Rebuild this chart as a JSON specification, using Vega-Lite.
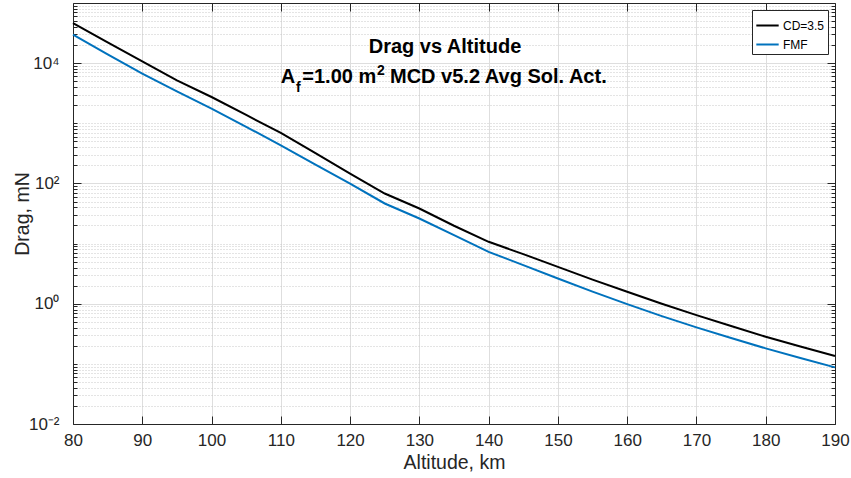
{
  "$schema": "https://vega.github.io/schema/vega-lite/v6.json",
  "width": 762,
  "height": 421,
  "autosize": {"type": "none"},
  "padding": {"left": 73, "top": 3, "right": 16, "bottom": 54},
  "background": "white",
  "config": {
    "view": {"stroke": null},
    "font": "Liberation Sans",
    "axis": {
      "labelFont": "Liberation Sans",
      "titleFont": "Liberation Sans",
      "labelColor": "#262626",
      "titleColor": "#262626",
      "domainColor": "#262626",
      "tickColor": "#262626",
      "titleFontWeight": "normal",
      "labelFontSize": 17,
      "titleFontSize": 19.5,
      "domainWidth": 1,
      "tickWidth": 1
    },
    "legend": {
      "orient": "top-right",
      "offset": 7,
      "fillColor": "white",
      "strokeColor": "#262626",
      "padding": 3,
      "symbolType": "stroke",
      "symbolStrokeWidth": 2,
      "symbolSize": 500,
      "labelFont": "Liberation Sans",
      "labelFontSize": 12,
      "labelColor": "#000000",
      "rowPadding": 0,
      "labelOffset": 3
    }
  },
  "data": {
    "values": [
      {"alt": 80, "drag": 46350, "series": "CD=3.5"},
      {"alt": 85, "drag": 22180, "series": "CD=3.5"},
      {"alt": 90, "drag": 10710, "series": "CD=3.5"},
      {"alt": 95, "drag": 5180, "series": "CD=3.5"},
      {"alt": 100, "drag": 2735, "series": "CD=3.5"},
      {"alt": 105, "drag": 1374, "series": "CD=3.5"},
      {"alt": 110, "drag": 690, "series": "CD=3.5"},
      {"alt": 115, "drag": 318, "series": "CD=3.5"},
      {"alt": 120, "drag": 146, "series": "CD=3.5"},
      {"alt": 125, "drag": 67.9, "series": "CD=3.5"},
      {"alt": 130, "drag": 38.3, "series": "CD=3.5"},
      {"alt": 135, "drag": 19.8, "series": "CD=3.5"},
      {"alt": 140, "drag": 10.7, "series": "CD=3.5"},
      {"alt": 145, "drag": 6.67, "series": "CD=3.5"},
      {"alt": 150, "drag": 4.1, "series": "CD=3.5"},
      {"alt": 155, "drag": 2.51, "series": "CD=3.5"},
      {"alt": 160, "drag": 1.58, "series": "CD=3.5"},
      {"alt": 165, "drag": 1.0, "series": "CD=3.5"},
      {"alt": 170, "drag": 0.647, "series": "CD=3.5"},
      {"alt": 175, "drag": 0.425, "series": "CD=3.5"},
      {"alt": 180, "drag": 0.282, "series": "CD=3.5"},
      {"alt": 185, "drag": 0.194, "series": "CD=3.5"},
      {"alt": 190, "drag": 0.135, "series": "CD=3.5"},
      {"alt": 80, "drag": 29720, "series": "FMF"},
      {"alt": 85, "drag": 14000, "series": "FMF"},
      {"alt": 90, "drag": 6690, "series": "FMF"},
      {"alt": 95, "drag": 3400, "series": "FMF"},
      {"alt": 100, "drag": 1755, "series": "FMF"},
      {"alt": 105, "drag": 875, "series": "FMF"},
      {"alt": 110, "drag": 431, "series": "FMF"},
      {"alt": 115, "drag": 205, "series": "FMF"},
      {"alt": 120, "drag": 99.6, "series": "FMF"},
      {"alt": 125, "drag": 46.4, "series": "FMF"},
      {"alt": 130, "drag": 26.1, "series": "FMF"},
      {"alt": 135, "drag": 13.8, "series": "FMF"},
      {"alt": 140, "drag": 7.28, "series": "FMF"},
      {"alt": 145, "drag": 4.38, "series": "FMF"},
      {"alt": 150, "drag": 2.63, "series": "FMF"},
      {"alt": 155, "drag": 1.59, "series": "FMF"},
      {"alt": 160, "drag": 0.984, "series": "FMF"},
      {"alt": 165, "drag": 0.622, "series": "FMF"},
      {"alt": 170, "drag": 0.404, "series": "FMF"},
      {"alt": 175, "drag": 0.269, "series": "FMF"},
      {"alt": 180, "drag": 0.181, "series": "FMF"},
      {"alt": 185, "drag": 0.125, "series": "FMF"},
      {"alt": 190, "drag": 0.0875, "series": "FMF"}
    ]
  },
  "layer": [
    {
      "mark": {"type": "point", "opacity": 0},
      "encoding": {
        "x": {"field": "alt", "type": "quantitative", "scale": {"domain": [80, 190], "nice": false, "zero": false},
          "axis": {"orient": "top", "values": [80, 90, 100, 110, 120, 130, 140, 150, 160, 170, 180, 190], "labels": false, "title": null, "grid": false, "tickSize": -8, "domain": true}},
        "y": {"field": "drag", "type": "quantitative", "scale": {"type": "log", "domain": [0.01, 100000], "nice": false},
          "axis": {"orient": "left", "values": [0.02,0.03,0.04,0.05,0.06,0.07,0.08,0.09,0.1,0.2,0.3,0.4,0.5,0.6,0.7,0.8,0.9,2,3,4,5,6,7,8,9,10,20,30,40,50,60,70,80,90,200,300,400,500,600,700,800,900,1000,2000,3000,4000,5000,6000,7000,8000,9000,20000,30000,40000,50000,60000,70000,80000,90000],
            "labels": false, "title": null, "domain": false, "tickSize": -4, "grid": true, "gridColor": "#c9c9c9", "gridDash": [1, 2], "gridWidth": 1}}
      }
    },
    {
      "mark": {"type": "point", "opacity": 0},
      "encoding": {
        "x": {"field": "alt", "type": "quantitative", "axis": null},
        "y": {"field": "drag", "type": "quantitative",
          "axis": {"orient": "right", "values": [0.02,0.03,0.04,0.05,0.06,0.07,0.08,0.09,0.1,0.2,0.3,0.4,0.5,0.6,0.7,0.8,0.9,2,3,4,5,6,7,8,9,10,20,30,40,50,60,70,80,90,200,300,400,500,600,700,800,900,1000,2000,3000,4000,5000,6000,7000,8000,9000,20000,30000,40000,50000,60000,70000,80000,90000],
            "labels": false, "title": null, "domain": false, "tickSize": -4, "grid": false}}
      }
    },
    {
      "mark": {"type": "point", "opacity": 0},
      "encoding": {
        "x": {"field": "alt", "type": "quantitative", "axis": null},
        "y": {"field": "drag", "type": "quantitative",
          "axis": {"orient": "right", "values": [0.01, 1, 100, 10000], "labels": false, "title": null, "domain": true, "tickSize": -8, "grid": false}}
      }
    },
    {
      "mark": {"type": "line", "strokeWidth": 2},
      "encoding": {
        "x": {"field": "alt", "type": "quantitative",
          "axis": {"orient": "bottom", "values": [80, 90, 100, 110, 120, 130, 140, 150, 160, 170, 180, 190], "title": "Altitude, km", "grid": true, "gridColor": "#dedede", "tickSize": -8, "labelPadding": 16, "titlePadding": 5, "labelFlush": false}},
        "y": {"field": "drag", "type": "quantitative",
          "axis": {"orient": "left", "values": [0.01, 1, 100, 10000], "title": "Drag, mN", "grid": true, "gridColor": "#dedede", "tickSize": -8, "labelPadding": 22, "titlePadding": -4, "labelFlush": false,
            "labelExpr": "datum.value >= 9999 ? '10⁴' : datum.value >= 99 ? '10²' : datum.value >= 0.99 ? '10⁰' : '10⁻²'"}},
        "color": {"field": "series", "type": "nominal", "scale": {"domain": ["CD=3.5", "FMF"], "range": ["#000000", "#0072BD"]},
          "legend": {"title": null}}
      }
    },
    {
      "data": {"values": [{"t": "Drag vs Altitude"}]},
      "mark": {"type": "text", "font": "Liberation Sans", "fontWeight": "bold", "fontSize": 20, "align": "center", "baseline": "alphabetic", "color": "#000000"},
      "encoding": {"text": {"field": "t"}, "x": {"datum": 133.7, "axis": null}, "y": {"datum": 14720, "axis": null}}
    },
    {
      "data": {"values": [{"t": "A"}]},
      "mark": {"type": "text", "font": "Liberation Sans", "fontWeight": "bold", "fontSize": 20, "align": "left", "baseline": "alphabetic", "color": "#000000"},
      "encoding": {"text": {"field": "t"}, "x": {"datum": 110.0, "axis": null}, "y": {"datum": 4670, "axis": null}}
    },
    {
      "data": {"values": [{"t": "f"}]},
      "mark": {"type": "text", "font": "Liberation Sans", "fontWeight": "bold", "fontSize": 14, "align": "left", "baseline": "alphabetic", "color": "#000000"},
      "encoding": {"text": {"field": "t"}, "x": {"datum": 112.2, "axis": null}, "y": {"datum": 3273, "axis": null}}
    },
    {
      "data": {"values": [{"t": "=1.00 m"}]},
      "mark": {"type": "text", "font": "Liberation Sans", "fontWeight": "bold", "fontSize": 20, "align": "left", "baseline": "alphabetic", "color": "#000000"},
      "encoding": {"text": {"field": "t"}, "x": {"datum": 113.1, "axis": null}, "y": {"datum": 4670, "axis": null}}
    },
    {
      "data": {"values": [{"t": "2"}]},
      "mark": {"type": "text", "font": "Liberation Sans", "fontWeight": "bold", "fontSize": 14, "align": "left", "baseline": "alphabetic", "color": "#000000"},
      "encoding": {"text": {"field": "t"}, "x": {"datum": 123.9, "axis": null}, "y": {"datum": 6270, "axis": null}}
    },
    {
      "data": {"values": [{"t": "MCD v5.2 Avg Sol. Act."}]},
      "mark": {"type": "text", "font": "Liberation Sans", "fontWeight": "bold", "fontSize": 20, "align": "left", "baseline": "alphabetic", "color": "#000000"},
      "encoding": {"text": {"field": "t"}, "x": {"datum": 125.76, "axis": null}, "y": {"datum": 4670, "axis": null}}
    }
  ],
  "resolve": {"axis": {"x": "independent", "y": "independent"}}
}
